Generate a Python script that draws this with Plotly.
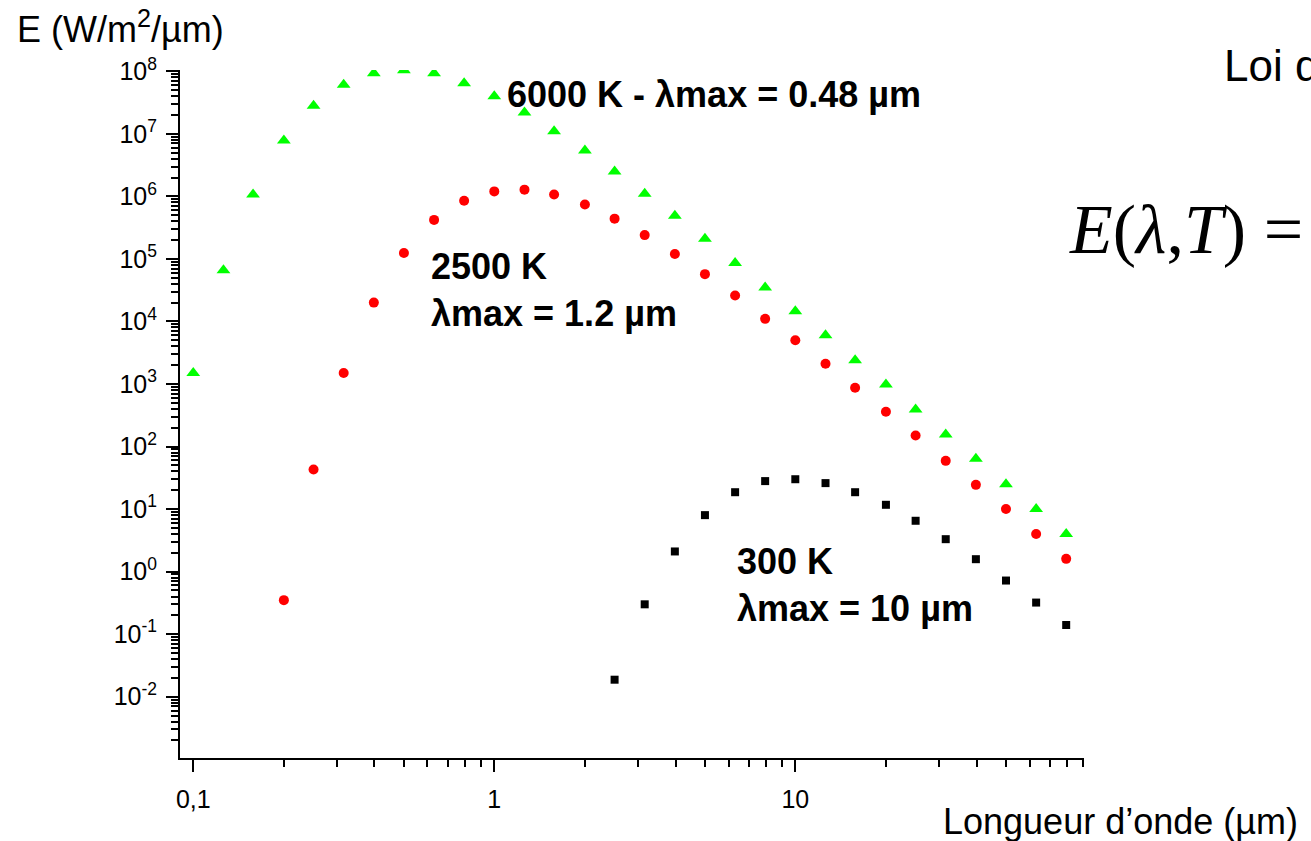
import plotly.graph_objects as go

# Wavelengths (µm) – ten points per decade
wl_6000 = [0.1, 0.126, 0.158, 0.2, 0.251, 0.316, 0.398, 0.501, 0.631, 0.794,
           1.0, 1.26, 1.58, 2.0, 2.51, 3.16, 3.98, 5.01, 6.31, 7.94,
           10.0, 12.6, 15.8, 20.0, 25.1, 31.6, 39.8, 50.1, 63.1, 79.4]
E_6000 = [1.5e3, 6.6e4, 1.07e6, 7.8e6, 2.8e7, 6.1e7, 9.3e7, 1.04e8, 9.3e7, 6.4e7,
          4.0e7, 2.2e7, 1.1e7, 5.4e6, 2.5e6, 1.1e6, 4.9e5, 2.1e5, 8.6e4, 3.5e4,
          1.45e4, 6.0e3, 2.4e3, 980, 390, 156, 64, 25, 10, 4.0]

wl_2500 = [0.2, 0.251, 0.316, 0.398, 0.501, 0.631, 0.794,
           1.0, 1.26, 1.58, 2.0, 2.51, 3.16, 3.98, 5.01, 6.31, 7.94,
           10.0, 12.6, 15.8, 20.0, 25.1, 31.6, 39.8, 50.1, 63.1, 79.4]
E_2500 = [0.35, 43, 1.5e3, 2.0e4, 1.24e5, 4.2e5, 8.5e5,
          1.2e6, 1.28e6, 1.07e6, 7.4e5, 4.4e5, 2.4e5, 1.2e5, 5.7e4, 2.6e4, 1.1e4,
          5.0e3, 2.1e3, 870, 360, 150, 59, 24.4, 10, 4.0, 1.6]

wl_300 = [2.51, 3.16, 3.98, 5.01, 6.31, 7.94,
          10.0, 12.6, 15.8, 20.0, 25.1, 31.6, 39.8, 50.1, 63.1, 79.4]
E_300 = [0.0187, 0.30, 2.1, 8.0, 18.6, 28,
         30, 26, 18.6, 11.7, 6.5, 3.3, 1.58, 0.72, 0.32, 0.14]

x_tickvals = [0.1, 1, 10]
x_ticktext = ["0,1", "1", "10"]
y_exponents = [-2, -1, 0, 1, 2, 3, 4, 5, 6, 7, 8]

FONT = "Liberation Sans, Arial, sans-serif"

fig = go.Figure()
fig.add_trace(go.Scatter(x=wl_6000, y=E_6000, mode="markers", name="6000 K",
                         marker=dict(symbol="triangle-up", size=12, color="#00FF00")))
fig.add_trace(go.Scatter(x=wl_2500, y=E_2500, mode="markers", name="2500 K",
                         marker=dict(symbol="circle", size=10, color="#FF0000")))
fig.add_trace(go.Scatter(x=wl_300, y=E_300, mode="markers", name="300 K",
                         marker=dict(symbol="square", size=8, color="#000000")))

x_minor = [k * 10.0 ** d for d in range(-2, 2) for k in range(2, 10)]
y_minor = [k * 10.0 ** d for d in range(-3, 8) for k in range(2, 10)]

fig.update_xaxes(type="log", range=[-1.044, 1.959], automargin=False,
                 showline=True, linecolor="black", linewidth=2,
                 showgrid=False, zeroline=False,
                 tickmode="array", tickvals=x_tickvals, ticktext=x_ticktext,
                 ticks="outside", ticklen=12, tickwidth=2, tickcolor="black",
                 ticklabelstandoff=6,
                 tickfont=dict(family=FONT, size=25, color="black"),
                 minor=dict(tickmode="array", tickvals=x_minor, ticks="outside",
                            ticklen=7, tickwidth=2, tickcolor="black", showgrid=False))
fig.update_yaxes(type="log", range=[-2.98, 8.02], automargin=False,
                 showline=True, linecolor="black", linewidth=2,
                 showgrid=False, zeroline=False,
                 tickmode="array", tickvals=[10.0 ** e for e in y_exponents],
                 ticktext=[f"10<sup>{e}</sup>" for e in y_exponents],
                 ticks="outside", ticklen=12, tickwidth=2, tickcolor="black",
                 ticklabelstandoff=4,
                 tickfont=dict(family=FONT, size=25, color="black"),
                 minor=dict(tickmode="array", tickvals=y_minor, ticks="outside",
                            ticklen=7, tickwidth=2, tickcolor="black", showgrid=False))

ann_font = dict(family=FONT, size=36, color="black")
annotations = [
    dict(text="<b>6000 K - λmax = 0.48 µm</b>", x=0.3595, y=0.964,
         xanchor="left", yanchor="middle", font=ann_font),
    dict(text="<b>2500 K<br>λmax = 1.2 µm</b>", x=0.2754, y=0.680,
         xanchor="left", yanchor="middle", align="left", font=ann_font),
    dict(text="<b>300 K<br>λmax = 10 µm</b>", x=0.614, y=0.2515,
         xanchor="left", yanchor="middle", align="left", font=ann_font),
    dict(text="E (W/m<sup>2</sup>/µm)", x=-0.1825, y=1.062,
         xanchor="left", yanchor="middle", font=dict(family=FONT, size=36, color="black")),
    dict(text="Longueur d’onde (µm)", x=1.239, y=-0.093,
         xanchor="right", yanchor="middle", font=dict(family=FONT, size=36, color="black")),
    dict(text="Loi de Planck", x=1.1527, y=1.006,
         xanchor="left", yanchor="middle", font=dict(family=FONT, size=44, color="black")),
    dict(text="<i>E</i>(<i>λ</i>,<i>T</i>) = ", x=0.9815, y=0.768,
         xanchor="left", yanchor="middle",
         font=dict(family="Liberation Serif, Times New Roman, serif", size=70, color="black")),
]
for a in annotations:
    a.update(xref="paper", yref="paper", showarrow=False)

fig.update_layout(width=1311, height=841,
                  margin=dict(l=180, r=227, t=70, b=83, autoexpand=False),
                  paper_bgcolor="white", plot_bgcolor="white",
                  showlegend=False, annotations=annotations)

fig.write_html("out.html",
               config={"displayModeBar": False},
               post_script="document.body.style.margin='0px';document.body.style.overflow='hidden';")
